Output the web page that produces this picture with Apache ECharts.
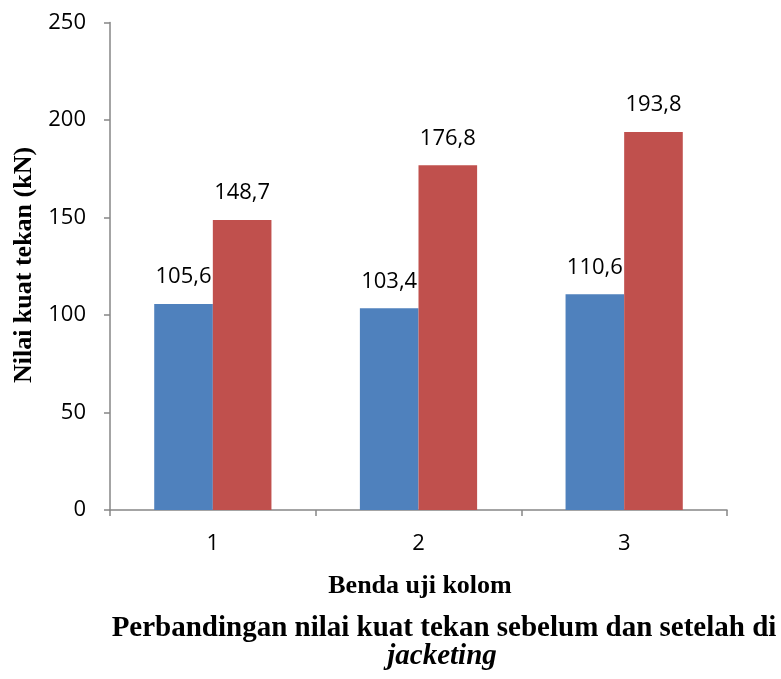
<!DOCTYPE html>
<html>
<head>
<meta charset="utf-8">
<script src="https://cdn.jsdelivr.net/npm/echarts@6/dist/echarts.min.js"></script>
<style>
  html, body { margin: 0; padding: 0; background: #fff; }
  #chart { width: 781px; height: 679px; }
</style>
</head>
<body>
<div id="chart"></div>
<script>
// Compressive strength of column specimens, before and after jacketing
const categories = ['1', '2', '3'];
const sebelum = [105.6, 103.4, 110.6];
const setelah = [148.7, 176.8, 193.8];
const yMin = 0, yMax = 250, yStep = 50;

const numFont = '"Open Sans", "Noto Sans", sans-serif';
const serifFont = '"Liberation Serif", "DejaVu Serif", serif';
const fmt = v => String(v).replace('.', ',');

const labelStyle = {
  show: true,
  position: 'top',
  distance: 16,
  fontFamily: numFont,
  fontSize: 22,
  lineHeight: 22,
  color: '#000',
  formatter: p => fmt(p.value)
};

const chart = echarts.init(document.getElementById('chart'), null, { renderer: 'canvas' });
chart.setOption({
  animation: false,
  backgroundColor: '#fff',
  grid: { left: 110, right: 54, top: 22.5, bottom: 169, containLabel: false },
  xAxis: {
    type: 'category',
    data: categories,
    boundaryGap: true,
    axisLine: { lineStyle: { color: '#868686', width: 1.5 } },
    axisTick: { show: true, length: 6, inside: false, lineStyle: { color: '#868686', width: 1.5 } },
    axisLabel: { margin: 23, fontFamily: numFont, fontSize: 22, color: '#000' }
  },
  yAxis: {
    type: 'value',
    min: yMin, max: yMax, interval: yStep,
    splitLine: { show: false },
    axisLine: { show: true, lineStyle: { color: '#868686', width: 1.5 } },
    axisTick: { show: true, length: 6, inside: false, lineStyle: { color: '#868686', width: 1.5 } },
    axisLabel: { margin: 24, fontFamily: numFont, fontSize: 22, color: '#000' }
  },
  series: [
    {
      name: 'Sebelum jacketing',
      type: 'bar',
      data: sebelum,
      barGap: '0%',
      barCategoryGap: '43%',
      itemStyle: { color: '#4F81BD' },
      label: labelStyle
    },
    {
      name: 'Setelah jacketing',
      type: 'bar',
      data: setelah,
      barGap: '0%',
      barCategoryGap: '43%',
      itemStyle: { color: '#C0504D' },
      label: labelStyle
    }
  ],
  graphic: [
    {
      type: 'text',
      x: 24, y: 265,
      rotation: Math.PI / 2,
      style: {
        text: 'Nilai kuat tekan (kN)',
        fontFamily: serifFont, fontWeight: 'bold', fontSize: 26,
        fill: '#000', align: 'center', verticalAlign: 'middle'
      }
    },
    {
      type: 'text',
      x: 420, y: 586,
      style: {
        text: 'Benda uji kolom',
        fontFamily: serifFont, fontWeight: 'bold', fontSize: 26,
        fill: '#000', align: 'center', verticalAlign: 'middle'
      }
    },
    {
      type: 'text',
      x: 444, y: 629,
      style: {
        text: 'Perbandingan nilai kuat tekan sebelum dan setelah di',
        fontFamily: serifFont, fontWeight: 'bold', fontSize: 29,
        fill: '#000', align: 'center', verticalAlign: 'middle'
      }
    },
    {
      type: 'text',
      x: 442, y: 657,
      style: {
        text: 'jacketing',
        fontFamily: serifFont, fontWeight: 'bold', fontStyle: 'italic', fontSize: 29,
        fill: '#000', align: 'center', verticalAlign: 'middle'
      }
    }
  ]
});
</script>
</body>
</html>
